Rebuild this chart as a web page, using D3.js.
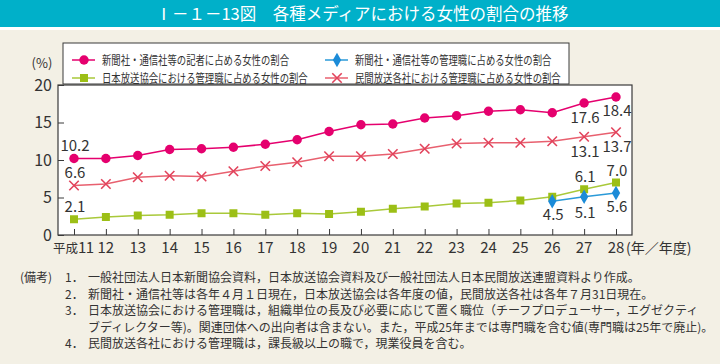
<!DOCTYPE html>
<html>
<head>
<meta charset="utf-8">
<script src="https://cdn.jsdelivr.net/npm/d3@7"></script>
<style>
  body { margin: 0; background: #f3f0e5; }
  text { font-family: "Noto Sans CJK JP", "Noto Sans", sans-serif; }
</style>
</head>
<body>
<div id="chart"></div>
<script>
// data
var years = [11, 12, 13, 14, 15, 16, 17, 18, 19, 20, 21, 22, 23, 24, 25, 26, 27, 28];
var yearLabels = ["11", "12", "13", "14", "15", "16", "17", "18", "19", "20", "21", "22", "23", "24", "25", "26", "27", "28"];
var eraLabel = "平成";
var reporterShare = [10.2, 10.2, 10.6, 11.4, 11.5, 11.7, 12.1, 12.7, 13.8, 14.7, 14.8, 15.6, 15.9, 16.5, 16.7, 16.3, 17.6, 18.4];
var pressManagerYears = [26, 27, 28];
var pressManagerShare = [4.5, 5.1, 5.6];
var nhkManagerShare = [2.1, 2.4, 2.6, 2.7, 2.9, 2.9, 2.7, 2.9, 2.8, 3.1, 3.5, 3.8, 4.2, 4.3, 4.6, 5.1, 6.1, 7.0];
var commercialManagerShare = [6.6, 6.8, 7.7, 7.9, 7.8, 8.5, 9.2, 9.7, 10.5, 10.5, 10.8, 11.5, 12.2, 12.3, 12.3, 12.5, 13.1, 13.7];
var yTicks = [0, 5, 10, 15, 20];

var seriesNames = [
    "新聞社・通信社等の記者に占める女性の割合",
    "新聞社・通信社等の管理職に占める女性の割合",
    "日本放送協会における管理職に占める女性の割合",
    "民間放送各社における管理職に占める女性の割合"
];
var titleText = "Ⅰ－１－13図　各種メディアにおける女性の割合の推移";
var notes = [
    ["(備考)", "1．", "一般社団法人日本新聞協会資料，日本放送協会資料及び一般社団法人日本民間放送連盟資料より作成。"],
    ["", "2．", "新聞社・通信社等は各年４月１日現在，日本放送協会は各年度の値，民間放送各社は各年７月31日現在。"],
    ["", "3．", "日本放送協会における管理職は，組織単位の長及び必要に応じて置く職位（チーフプロデューサー，エグゼクティ"],
    ["", "", "ブディレクター等)。関連団体への出向者は含まない。また，平成25年までは専門職を含む値(専門職は25年で廃止)。"],
    ["", "4．", "民間放送各社における管理職は，課長級以上の職で，現業役員を含む。"]
];

var width = 720, height = 364;
var plotLeft = 58, plotRight = 632, plotTop = 85, plotBottom = 235;
var textColor = "#333";

var svg = d3.select("#chart").append("svg")
    .attr("width", width)
    .attr("height", height);

svg.append("rect").attr("width", width).attr("height", height).attr("fill", "#f3f0e5");

// title bar
svg.append("rect").attr("x", 0).attr("y", 0).attr("width", width).attr("height", 27).attr("fill", "#00b0c9");
svg.append("rect").attr("x", 0).attr("y", 27).attr("width", width).attr("height", 3).attr("fill", "#fff");
svg.append("text")
    .attr("x", 362).attr("y", 19.5)
    .attr("text-anchor", "middle")
    .attr("fill", "#fff")
    .style("font-size", "16.5px")
    .text(titleText);

// scales
var x = d3.scaleLinear().domain([11, 28]).range([74, 616]);
var y = d3.scaleLinear().domain([0, 20]).range([plotBottom, plotTop]);

// plot frame
svg.append("rect")
    .attr("x", plotLeft).attr("y", plotTop)
    .attr("width", plotRight - plotLeft).attr("height", plotBottom - plotTop)
    .attr("fill", "#fff")
    .attr("stroke", "#3a3a3a")
    .attr("stroke-width", 1.2);

// y axis (ticks pointing inward)
var yAxis = d3.axisRight(y).tickValues(yTicks).tickSize(6).tickFormat("");
var yAxisG = svg.append("g").attr("transform", "translate(" + plotLeft + ",0)").call(yAxis);
yAxisG.select(".domain").remove();
yAxisG.selectAll("line").attr("stroke", "#3a3a3a");

svg.append("g").selectAll("text").data(yTicks).enter().append("text")
    .attr("x", 52)
    .attr("y", function (d) { return y(d) + 5.5; })
    .attr("text-anchor", "end")
    .attr("fill", textColor)
    .style("font-size", "16px")
    .text(function (d) { return d; });

svg.append("text")
    .attr("x", 42).attr("y", 67.5)
    .attr("text-anchor", "middle")
    .attr("fill", textColor)
    .style("font-size", "13px")
    .text("(%)");

// x axis
var xAxis = d3.axisTop(x).tickValues(years).tickSize(6).tickFormat("");
var xAxisG = svg.append("g").attr("transform", "translate(0," + plotBottom + ")").call(xAxis);
xAxisG.select(".domain").remove();
xAxisG.selectAll("line").attr("stroke", "#3a3a3a");

svg.append("g").selectAll("text").data(years.slice(1)).enter().append("text")
    .attr("x", function (d) { return x(d); })
    .attr("y", 253)
    .attr("text-anchor", "middle")
    .attr("fill", textColor)
    .style("font-size", "15px")
    .text(function (d, i) { return yearLabels[i + 1]; });

// first label carries the era name, squeezed like the original
var firstLabel = svg.append("text")
    .attr("x", 53).attr("y", 253)
    .attr("fill", textColor);
firstLabel.append("tspan").style("font-size", "12.5px").text(eraLabel);
firstLabel.append("tspan").style("font-size", "15px").attr("letter-spacing", "-0.5px").text(yearLabels[0]);

svg.append("text")
    .attr("x", x(28) + 10).attr("y", 253)
    .attr("fill", textColor)
    .style("font-size", "14px")
    .text("(年／年度)");

// series
var series = [
    { name: seriesNames[0], years: years, values: reporterShare, color: "#e5006e", line: "#e5006e", marker: "circle", labels: [[11, -8], [27, 20], [28, 19]] },
    { name: seriesNames[1], years: pressManagerYears, values: pressManagerShare, color: "#1b8bd8", line: "#2a9ad8", marker: "diamond", labels: [[26, 19], [27, 21], [28, 19]] },
    { name: seriesNames[2], years: years, values: nhkManagerShare, color: "#9cbf16", line: "#a9c93a", marker: "square", labels: [[11, -7], [27, -7], [28, -7]] },
    { name: seriesNames[3], years: years, values: commercialManagerShare, color: "#e2435c", line: "#e8606f", marker: "cross", labels: [[11, -8], [27, 20], [28, 20]] }
];

var lineGen = d3.line()
    .x(function (d) { return x(d.year); })
    .y(function (d) { return y(d.value); });

var symbolFor = {
    circle: d3.symbol().type(d3.symbolCircle).size(70),
    square: d3.symbol().type(d3.symbolSquare).size(64),
    diamond: d3.symbol().type(d3.symbolDiamond).size(60),
    cross: d3.symbol().type(d3.symbolX).size(60)
};

function drawMarker(g, s) {
    var p = g.append("path").attr("d", symbolFor[s.marker]());
    if (s.marker === "cross") {
        p.attr("fill", "none").attr("stroke", s.color).attr("stroke-width", 1.6);
    } else {
        p.attr("fill", s.color);
    }
    return p;
}

// draw order: NHK, commercial, reporters, press managers
[2, 3, 0, 1].forEach(function (k) {
    var s = series[k];
    var pts = s.years.map(function (yr, i) { return { year: yr, value: s.values[i] }; });
    var g = svg.append("g");
    g.append("path")
        .datum(pts)
        .attr("d", lineGen)
        .attr("fill", "none")
        .attr("stroke", s.line)
        .attr("stroke-width", 1.5);
    pts.forEach(function (d) {
        var m = g.append("g").attr("transform", "translate(" + x(d.year) + "," + y(d.value) + ")");
        drawMarker(m, s);
    });
    s.labels.forEach(function (lb) {
        var idx = s.years.indexOf(lb[0]);
        g.append("text")
            .attr("x", x(lb[0]) + 1)
            .attr("y", y(s.values[idx]) + lb[1])
            .attr("text-anchor", "middle")
            .attr("fill", textColor)
            .style("font-size", "15px")
            .text(s.values[idx].toFixed(1));
    });
});

// legend
var legend = svg.append("g");
legend.append("rect")
    .attr("x", 63).attr("y", 43)
    .attr("width", 506).attr("height", 41)
    .attr("fill", "#fff")
    .attr("stroke", "#3a3a3a")
    .attr("stroke-width", 1);

var legendPos = [[72, 60], [325, 60], [72, 78], [325, 78]];
series.forEach(function (s, i) {
    var lx = legendPos[i][0], ly = legendPos[i][1];
    legend.append("line")
        .attr("x1", lx).attr("x2", lx + 23)
        .attr("y1", ly).attr("y2", ly)
        .attr("stroke", s.line)
        .attr("stroke-width", 1.5);
    var m = legend.append("g").attr("transform", "translate(" + (lx + 12) + "," + ly + ")");
    drawMarker(m, s);
    legend.append("text")
        .attr("x", lx + 30).attr("y", ly + 4.5)
        .attr("fill", textColor)
        .attr("textLength", s.name.length * 9.35)
        .attr("lengthAdjust", "spacingAndGlyphs")
        .style("font-size", "12px")
        .text(s.name);
});

// notes
var notesG = svg.append("g").style("font-size", "12px").attr("fill", textColor);
notes.forEach(function (n, i) {
    var ny = 282 + i * 16.5;
    notesG.append("text").attr("x", 20).attr("y", ny).text(n[0]);
    notesG.append("text").attr("x", 65).attr("y", ny).text(n[1]);
    notesG.append("text").attr("x", 88).attr("y", ny).text(n[2]);
});
</script>
</body>
</html>
